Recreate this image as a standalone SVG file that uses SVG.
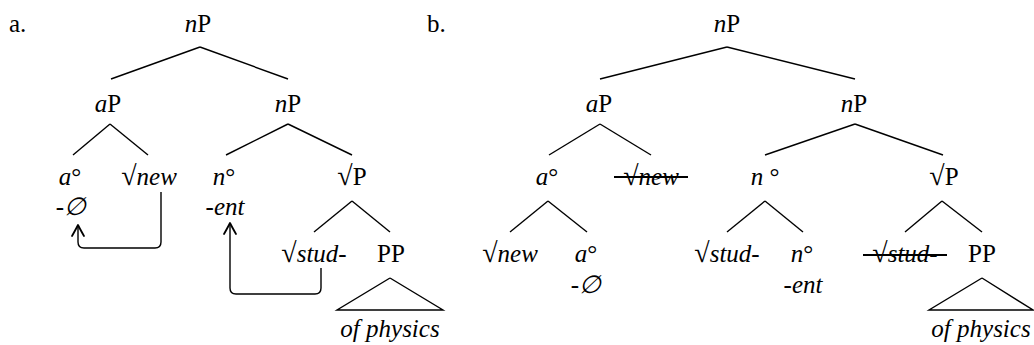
<svg xmlns="http://www.w3.org/2000/svg" width="1034" height="345" viewBox="0 0 1034 345" font-family="Liberation Serif, DejaVu Serif, serif">
<style>
text{font-family:"Liberation Serif","DejaVu Serif",serif;font-size:25px;fill:#000;text-anchor:middle}
.i{font-style:italic}
.u{font-style:normal}
.r{font-size:28px}
.l{text-anchor:start}
line,polyline,path{stroke:#000;stroke-width:1.4;fill:none}
.strike{stroke-width:2}
</style>
<defs>
<marker id="ah" viewBox="-14 -8 16 16" markerWidth="16" markerHeight="16" refX="0" refY="0" orient="auto" markerUnits="userSpaceOnUse">
<path d="M-11,-6 Q-4,-2 0,0 Q-4,2 -11,6" style="stroke:#000;stroke-width:1.8;fill:none;stroke-linecap:round;stroke-linejoin:round"/>
</marker>
</defs>
<text class="l" x="9" y="32">a.</text>
<text class="l" x="427" y="32">b.</text>
<g id="connectors">
<line x1="200" y1="47" x2="111" y2="79"/>
<line x1="200" y1="47" x2="288" y2="79"/>
<line x1="110" y1="124" x2="73" y2="155"/>
<line x1="110" y1="124" x2="148" y2="155"/>
<line x1="288" y1="124" x2="226" y2="155"/>
<line x1="288" y1="124" x2="352" y2="155"/>
<line x1="352" y1="201" x2="314" y2="232"/>
<line x1="352" y1="201" x2="390" y2="232"/>
<polyline points="390,278 337,310 443,310 390,278"/>
<path d="M161,192 V242 Q161,248 155,248 H84 Q78,248 78,242 V225" marker-end="url(#ah)"/>
<path d="M321,268 V288 Q321,294 315,294 H236 Q230,294 230,288 V223" marker-end="url(#ah)"/>
<line x1="727" y1="47" x2="600" y2="79"/>
<line x1="727" y1="47" x2="855" y2="79"/>
<line x1="600" y1="124" x2="549" y2="155"/>
<line x1="600" y1="124" x2="651" y2="155"/>
<line x1="855" y1="124" x2="765" y2="155"/>
<line x1="855" y1="124" x2="943" y2="155"/>
<line x1="548" y1="201" x2="510" y2="232"/>
<line x1="548" y1="201" x2="587" y2="232"/>
<line x1="765" y1="201" x2="727" y2="232"/>
<line x1="765" y1="201" x2="803" y2="232"/>
<line x1="942" y1="201" x2="905" y2="232"/>
<line x1="942" y1="201" x2="982" y2="232"/>
<polyline points="982,278 929,310 1033,310 982,278"/>
</g>
<g id="a-root"><text x="198" y="32"><tspan class="i">n</tspan>P</text></g>
<g id="a-aP"><text x="108" y="112"><tspan class="i">a</tspan>P</text></g>
<g id="a-nP"><text x="288" y="112"><tspan class="i">n</tspan>P</text></g>
<g id="a-a0"><text x="70" y="185"><tspan class="i">a</tspan><tspan class="u">°</tspan></text><text class="i" x="71" y="215">-∅</text></g>
<g id="a-new"><text x="149" y="185"><tspan class="r">√</tspan><tspan class="i">new</tspan></text></g>
<g id="a-n0"><text x="224" y="185"><tspan class="i">n</tspan><tspan class="u">°</tspan></text><text class="i" x="225" y="215">-ent</text></g>
<g id="a-rootP"><text x="352" y="185"><tspan class="r">√</tspan>P</text></g>
<g id="a-stud"><text x="314" y="262"><tspan class="r">√</tspan><tspan class="i">stud-</tspan></text></g>
<g id="a-PP"><text x="391" y="262">PP</text></g>
<g id="a-phys"><text class="i" x="390" y="337">of physics</text></g>
<g id="b-root"><text x="727" y="32"><tspan class="i">n</tspan>P</text></g>
<g id="b-aP"><text x="599" y="112"><tspan class="i">a</tspan>P</text></g>
<g id="b-nP"><text x="854" y="112"><tspan class="i">n</tspan>P</text></g>
<g id="b-a0"><text x="547" y="185"><tspan class="i">a</tspan><tspan class="u">°</tspan></text></g>
<g id="b-new-trace"><text x="651" y="185"><tspan class="r">√</tspan><tspan class="i">new</tspan></text><line class="strike" x1="614" y1="177" x2="688" y2="177"/></g>
<g id="b-n0"><text x="765" y="185"><tspan class="i">n</tspan> <tspan class="u">°</tspan></text></g>
<g id="b-rootP"><text x="944" y="185"><tspan class="r">√</tspan>P</text></g>
<g id="b-new"><text x="510" y="262"><tspan class="r">√</tspan><tspan class="i">new</tspan></text></g>
<g id="b-a0-low"><text x="586" y="262"><tspan class="i">a</tspan><tspan class="u">°</tspan></text><text class="i" x="586" y="293">-∅</text></g>
<g id="b-stud"><text x="727" y="262"><tspan class="r">√</tspan><tspan class="i">stud-</tspan></text></g>
<g id="b-n0-low"><text x="802" y="262"><tspan class="i">n</tspan><tspan class="u">°</tspan></text><text class="i" x="803" y="293">-ent</text></g>
<g id="b-stud-trace"><text x="905" y="262"><tspan class="r">√</tspan><tspan class="i">stud-</tspan></text><line class="strike" x1="863" y1="255" x2="947" y2="255"/></g>
<g id="b-PP"><text x="982" y="262">PP</text></g>
<g id="b-phys"><text class="i" x="981" y="337">of physics</text></g>
</svg>
